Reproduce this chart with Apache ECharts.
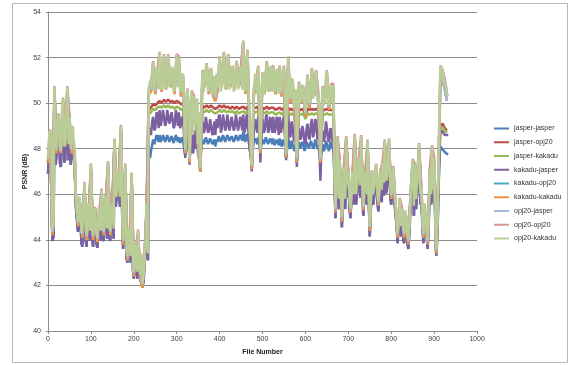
<!DOCTYPE html>
<html>
<head>
<meta charset="utf-8">
<script src="https://cdn.jsdelivr.net/npm/echarts@6/dist/echarts.min.js"></script>
<style>html,body{margin:0;padding:0;background:#fff;}#chart{width:577px;height:365px;}</style>
</head>
<body>
<div id="chart"></div>
<script>
const fileNumbers = [
0,5,10,15,20,25,30,35,40,45,
50,55,60,65,70,75,80,85,90,95,
100,105,110,115,120,125,130,135,140,145,
150,155,160,165,170,175,180,185,190,195,
200,205,210,215,220,225,230,235,240,245,
250,255,260,265,270,275,280,285,290,295,
300,305,310,315,320,325,330,335,340,345,
350,355,360,365,370,375,380,385,390,395,
400,405,410,415,420,425,430,435,440,445,
450,455,460,465,470,475,480,485,490,495,
500,505,510,515,520,525,530,535,540,545,
550,555,560,565,570,575,580,585,590,595,
600,605,610,615,620,625,630,635,640,645,
650,655,660,665,670,675,680,685,690,695,
700,705,710,715,720,725,730,735,740,745,
750,755,760,765,770,775,780,785,790,795,
800,805,810,815,820,825,830,835,840,845,
850,855,860,865,870,875,880,885,890,895,
900,905,910,915,920,925,930];

// in-between file numbers (frames between the main samples) for the dense, noisy series
const midFileNumbers = [
3,8,13,18,23,28,33,38,43,48,
53,58,63,68,73,78,83,88,93,98,
103,108,113,118,123,128,133,138,143,148,
153,158,163,168,173,178,183,188,193,198,
203,208,213,218,223,228,233,238,243,248,
253,258,263,268,273,278,283,288,293,298,
303,308,313,318,323,328,333,338,343,348,
353,358,363,368,373,378,383,388,393,398,
403,408,413,418,423,428,433,438,443,448,
453,458,463,468,473,478,483,488,493,498,
503,508,513,518,523,528,533,538,543,548,
553,558,563,568,573,578,583,588,593,598,
603,608,613,618,623,628,633,638,643,648,
653,658,663,668,673,678,683,688,693,698,
703,708,713,718,723,728,733,738,743,748,
753,758,763,768,773,778,783,788,793,798,
803,808,813,818,823,828,833,838,843,848,
853,858,863,868,873,878,883,888,893,898,
903,908,913,918,923,928,933];

const seriesNames = ['jasper-jasper','jasper-opj20','jasper-kakadu','kakadu-jasper','kakadu-opj20','kakadu-kakadu','opj20-jasper','opj20-opj20','opj20-kakadu'];
const seriesColors = ['#4A7EBB','#BE4B48','#98B954','#7D60A0','#46AAC5','#F69240','#A2BCDD','#DA9694','#B9CE97'];
const yTicks = {min:40, max:54, step:2};
const xTicks = {min:0, max:1000, step:100};

const jasperJasper = [
46.9,48.1,43.95,50.0,47.3,48.8,47.2,49.5,47.5,50.0,
48.7,47.3,47.6,45.45,44.35,45.15,43.7,45.95,43.7,44.75,
46.75,43.7,44.95,43.65,44.85,45.65,43.95,45.45,46.85,43.95,
45.15,47.7,45.5,46.25,48.3,43.6,46.75,43.0,43.5,46.35,
42.3,43.2,43.95,42.2,41.95,43.0,45.15,47.7,47.9,48.4,
48.2,48.5,48.6,48.3,48.6,48.3,48.6,48.3,48.55,48.25,
48.6,48.5,48.2,48.4,47.7,48.3,47.6,48.3,48.2,48.0,
47.8,47.5,48.4,48.2,48.5,48.2,48.45,48.2,48.1,48.3,
48.6,48.3,48.65,48.3,48.6,48.35,48.55,48.3,48.6,48.35,
48.55,48.75,48.3,48.6,48.0,47.6,48.3,48.35,48.5,47.9,
48.4,48.2,48.5,48.2,48.45,48.45,48.15,48.35,48.45,48.1,
48.4,47.6,48.5,48.0,48.3,47.9,47.5,48.3,48.0,48.2,
47.9,48.35,48.0,48.4,48.1,48.4,48.1,47.5,48.2,48.0,
48.4,47.9,48.2,48.2,44.95,47.8,46.95,44.55,46.65,47.8,
46.45,44.95,46.45,47.9,45.95,47.05,47.85,45.05,46.45,47.65,
44.15,46.45,45.85,46.75,45.25,46.45,46.85,47.65,46.25,47.7,
45.55,46.65,45.15,43.85,45.35,44.95,43.85,44.55,43.6,45.55,
46.95,46.75,45.95,47.5,45.85,43.85,44.75,43.6,46.55,47.4,
47.05,43.3,46.0,48.1,48.0,47.85,47.8];
const jasperJasperMid = [
48.0,47.8,44.15,47.3,48.5,47.35,49.1,47.4,48.9,47.5,
47.3,48.3,47.35,44.75,45.45,43.85,45.05,43.95,45.15,43.95,
44.15,44.95,43.85,44.95,43.95,44.05,45.35,44.05,44.15,44.95,
44.05,45.45,46.45,45.45,45.05,44.75,43.2,44.05,43.0,42.7,
43.5,42.3,42.7,43.1,42.2,43.55,43.1,47.6,48.2,48.2,
48.6,48.3,48.3,48.6,48.3,48.6,48.3,48.55,48.25,48.6,
48.3,48.25,48.5,47.9,48.3,48.0,48.3,47.8,48.0,48.3,
48.2,48.3,48.2,48.5,48.2,48.45,48.2,48.4,48.4,48.55,
48.3,48.6,48.3,48.6,48.35,48.55,48.3,48.6,48.35,48.6,
48.35,48.4,48.65,48.3,47.7,48.1,48.45,48.2,48.2,48.3,
48.2,48.5,48.2,48.45,48.2,48.15,48.4,48.15,48.2,48.4,
48.1,48.1,48.1,48.35,48.0,48.2,48.0,48.0,48.3,47.9,
48.3,48.0,48.35,48.0,48.4,48.0,47.8,48.0,47.9,48.35,
48.0,48.3,48.0,46.5,46.25,45.35,45.65,45.85,45.35,45.85,
45.35,46.05,45.55,45.55,46.85,45.85,46.05,46.25,45.55,45.55,
45.55,45.55,46.65,45.65,46.35,45.65,45.95,46.05,47.05,45.85,
46.35,45.55,44.55,44.85,44.15,44.05,44.85,43.85,44.55,46.25,
45.05,45.35,46.65,45.55,44.55,45.15,44.15,45.05,45.55,45.65,
44.55,44.35,47.8,48.0,47.9,47.8,47.75];

const jasperOpj20 = [
47.4,48.6,44.2,50.5,47.8,49.3,47.8,50.0,48.1,50.5,
49.2,47.8,48.1,45.8,44.6,45.4,44.1,46.3,44.0,45.0,
47.1,44.0,45.2,43.9,45.1,46.0,44.2,45.7,47.2,44.2,
45.4,48.2,45.9,46.6,48.8,43.8,47.1,43.1,43.6,46.7,
42.4,43.3,44.2,42.3,41.9,43.1,45.4,49.7,49.8,49.95,
49.9,50.0,50.1,50.0,50.15,50.05,50.15,50.05,50.1,50.0,
50.1,50.05,49.95,50.0,47.8,49.9,47.4,49.85,49.8,49.3,
48.0,47.0,49.9,49.8,49.9,49.8,49.9,49.8,49.75,49.8,
49.9,49.8,49.9,49.8,49.85,49.75,49.85,49.75,49.85,49.75,
49.8,49.85,49.75,49.85,48.8,47.1,49.8,49.8,49.85,47.8,
49.8,49.75,49.85,49.75,49.8,49.8,49.7,49.75,49.8,49.7,
49.8,47.6,49.8,49.7,49.75,49.6,47.4,49.75,49.7,49.75,
49.4,49.75,49.7,49.75,49.7,49.75,49.7,47.4,49.7,49.7,
49.75,49.7,49.7,49.7,45.2,48.3,47.3,44.8,47.0,48.3,
46.8,45.2,46.8,48.4,46.3,47.4,48.35,45.3,46.8,48.15,
44.4,46.8,46.2,47.1,45.5,46.8,47.2,48.15,46.6,48.2,
45.8,47.0,45.4,44.1,45.6,45.2,44.1,44.8,43.8,45.8,
47.3,47.1,46.3,48.0,46.2,44.1,45.0,43.8,46.9,47.9,
47.4,43.4,46.8,49.0,49.1,48.9,48.8];

const jasperKakadu = [
47.4,48.6,44.2,50.5,47.8,49.3,47.8,50.0,48.1,50.5,
49.2,47.8,48.1,45.8,44.6,45.4,44.1,46.3,44.0,45.0,
47.1,44.0,45.2,43.9,45.1,46.0,44.2,45.7,47.2,44.2,
45.4,48.2,45.9,46.6,48.8,43.8,47.1,43.1,43.6,46.7,
42.4,43.3,44.2,42.3,41.9,43.1,45.4,49.5,49.6,49.75,
49.7,49.8,49.85,49.8,49.9,49.8,49.9,49.8,49.85,49.75,
49.85,49.8,49.7,49.75,47.8,49.65,47.4,49.6,49.55,49.2,
48.0,47.0,49.7,49.6,49.7,49.6,49.7,49.6,49.55,49.6,
49.7,49.6,49.7,49.6,49.65,49.6,49.65,49.55,49.65,49.55,
49.6,49.65,49.55,49.65,48.8,47.1,49.6,49.6,49.65,47.8,
49.6,49.55,49.65,49.55,49.6,49.6,49.5,49.55,49.6,49.5,
49.6,47.6,49.6,49.5,49.55,49.4,47.4,49.55,49.5,49.55,
49.3,49.55,49.5,49.55,49.5,49.55,49.5,47.4,49.5,49.5,
49.55,49.5,49.5,49.5,45.2,48.3,47.3,44.8,47.0,48.3,
46.8,45.2,46.8,48.4,46.3,47.4,48.35,45.3,46.8,48.15,
44.4,46.8,46.2,47.1,45.5,46.8,47.2,48.15,46.6,48.2,
45.8,47.0,45.4,44.1,45.6,45.2,44.1,44.8,43.8,45.8,
47.3,47.1,46.3,48.0,46.2,44.1,45.0,43.8,46.9,47.9,
47.4,43.4,46.8,48.9,48.95,48.8,48.7];

const kakaduJasper = [
46.9,48.1,43.95,50.0,47.3,48.8,47.2,49.5,47.5,50.0,
48.7,47.3,47.6,45.45,44.35,45.15,43.7,45.95,43.7,44.75,
46.75,43.7,44.95,43.65,44.85,45.65,43.95,45.45,46.85,43.95,
45.15,47.7,45.5,46.25,48.3,43.6,46.75,43.0,43.5,46.35,
42.3,43.2,43.95,42.2,41.95,43.0,45.15,48.7,48.6,49.4,
48.9,49.5,49.7,49.0,49.7,49.1,49.7,49.1,49.6,49.0,
49.7,49.6,48.9,49.3,47.6,49.0,47.3,48.9,48.8,48.4,
47.7,47.1,49.2,48.8,49.4,48.8,49.3,48.7,48.6,48.9,
49.5,48.9,49.5,48.9,49.5,49.0,49.4,48.9,49.5,49.0,
49.4,49.5,48.9,49.5,48.0,47.0,48.8,49.0,49.4,47.4,
49.3,48.8,49.5,48.8,49.4,49.4,48.8,49.2,49.4,48.7,
49.4,47.5,49.5,48.5,49.0,48.3,47.2,48.9,48.5,48.8,
48.2,49.1,48.4,49.3,48.7,49.2,48.6,46.6,48.8,48.5,
49.2,48.3,48.8,48.9,44.95,47.8,46.95,44.55,46.65,47.8,
46.45,44.95,46.45,47.9,45.95,47.05,47.85,45.05,46.45,47.65,
44.15,46.45,45.85,46.75,45.25,46.45,46.85,47.65,46.25,47.7,
45.55,46.65,45.15,43.85,45.35,44.95,43.85,44.55,43.6,45.55,
46.95,46.75,45.95,47.5,45.85,43.85,44.75,43.6,46.55,47.4,
47.05,43.3,46.0,48.8,48.75,48.6,48.6];
const kakaduJasperMid = [
48.0,47.8,44.15,47.3,48.5,47.35,49.1,47.4,48.9,47.5,
47.3,48.3,47.35,44.75,45.45,43.85,45.05,43.95,45.15,43.95,
44.15,44.95,43.85,44.95,43.95,44.05,45.35,44.05,44.15,44.95,
44.05,45.45,46.45,45.45,45.05,44.75,43.2,44.05,43.0,42.7,
43.5,42.3,42.7,43.1,42.2,43.55,43.1,48.9,49.2,48.8,
49.6,48.9,49.0,49.7,49.0,49.7,49.1,49.6,48.9,49.7,
49.0,48.9,49.4,48.3,49.0,48.6,48.9,47.8,48.0,49.0,
48.7,48.9,48.7,49.4,48.7,49.3,48.6,49.2,49.3,49.4,
48.7,49.5,48.8,49.5,48.8,49.4,48.8,49.5,48.8,49.4,
48.8,48.7,49.5,48.6,47.6,48.3,49.3,48.7,48.6,48.8,
48.7,49.4,48.7,49.4,48.7,48.7,49.4,48.6,48.7,49.3,
48.5,48.6,48.6,49.2,48.4,48.9,48.5,48.4,49.0,48.3,
48.9,48.5,49.1,48.5,49.3,48.4,47.9,48.4,48.3,49.2,
48.4,48.9,48.3,46.5,46.25,45.35,45.65,45.85,45.35,45.85,
45.35,46.05,45.55,45.55,46.85,45.85,46.05,46.25,45.55,45.55,
45.55,45.55,46.65,45.65,46.35,45.65,45.95,46.05,47.05,45.85,
46.35,45.55,44.55,44.85,44.15,44.05,44.85,43.85,44.55,46.25,
45.05,45.35,46.65,45.55,44.55,45.15,44.15,45.05,45.55,45.65,
44.55,44.35,48.5,48.8,48.7,48.6,48.6];

const kakaduOpj20 = [
47.4,48.6,44.2,50.5,47.8,49.3,47.8,50.0,48.1,50.5,
49.2,47.8,48.1,45.8,44.6,45.4,44.1,46.3,44.0,45.0,
47.1,44.0,45.2,43.9,45.1,46.0,44.2,45.7,47.2,44.2,
45.4,48.2,45.9,46.6,48.8,43.8,47.1,43.1,43.6,46.7,
42.4,43.3,44.2,42.3,41.9,43.1,45.4,50.4,50.5,51.6,
50.4,51.2,52.0,50.5,51.9,50.6,51.9,50.7,51.3,50.4,
51.9,51.8,50.3,51.0,47.8,50.4,47.4,50.3,50.1,49.3,
48.0,47.0,51.2,50.7,51.5,50.4,51.3,50.3,50.1,50.5,
51.8,50.7,52.0,50.6,51.9,50.7,51.4,50.6,51.6,50.7,
51.4,52.5,50.4,52.1,48.8,47.1,50.4,50.7,51.4,47.8,
51.1,50.4,51.6,50.5,51.3,51.4,50.4,51.0,51.4,50.3,
51.4,47.6,51.8,50.0,50.8,49.6,47.4,50.7,50.0,50.5,
49.4,51.0,49.8,51.3,50.3,51.2,50.2,47.4,50.5,50.0,
51.2,49.7,50.6,50.6,45.2,48.3,47.3,44.8,47.0,48.3,
46.8,45.2,46.8,48.4,46.3,47.4,48.35,45.3,46.8,48.15,
44.4,46.8,46.2,47.1,45.5,46.8,47.2,48.15,46.6,48.2,
45.8,47.0,45.4,44.1,45.6,45.2,44.1,44.8,43.8,45.8,
47.3,47.1,46.3,48.0,46.2,44.1,45.0,43.8,46.9,47.9,
47.4,43.4,46.8,51.3,51.0,50.6,50.1];

const kakaduKakadu = [
47.4,48.6,44.2,50.5,47.8,49.3,47.8,50.0,48.1,50.5,
49.2,47.8,48.1,45.8,44.6,45.4,44.1,46.3,44.0,45.0,
47.1,44.0,45.2,43.9,45.1,46.0,44.2,45.7,47.2,44.2,
45.4,48.2,45.9,46.6,48.8,43.8,47.1,43.1,43.6,46.7,
42.4,43.3,44.2,42.3,41.9,43.1,45.4,50.4,50.5,51.6,
50.4,51.2,52.0,50.5,51.9,50.6,51.9,50.7,51.3,50.4,
51.9,51.8,50.3,51.0,47.8,50.4,47.4,50.3,50.1,49.3,
48.0,47.0,51.2,50.7,51.5,50.4,51.3,50.3,50.1,50.5,
51.8,50.7,52.0,50.6,51.9,50.7,51.4,50.6,51.6,50.7,
51.4,52.5,50.4,52.1,48.8,47.1,50.4,50.7,51.4,47.8,
51.1,50.4,51.6,50.5,51.3,51.4,50.4,51.0,51.4,50.3,
51.4,47.6,51.8,50.0,50.8,49.6,47.4,50.7,50.0,50.5,
49.4,51.0,49.8,51.3,50.3,51.2,50.2,47.4,50.5,50.0,
51.2,49.7,50.6,50.6,45.2,48.3,47.3,44.8,47.0,48.3,
46.8,45.2,46.8,48.4,46.3,47.4,48.35,45.3,46.8,48.15,
44.4,46.8,46.2,47.1,45.5,46.8,47.2,48.15,46.6,48.2,
45.8,47.0,45.4,44.1,45.6,45.2,44.1,44.8,43.8,45.8,
47.3,47.1,46.3,48.0,46.2,44.1,45.0,43.8,46.9,47.9,
47.4,43.4,46.8,51.3,51.0,50.6,50.1];

const opj20Jasper = [
47.55,48.75,44.35,50.65,47.95,49.45,47.95,50.15,48.25,50.65,
49.35,47.95,48.25,45.95,44.75,45.55,44.25,46.45,44.15,45.15,
47.25,44.15,45.35,44.05,45.25,46.15,44.35,45.85,47.35,44.35,
45.55,48.35,46.05,46.75,48.95,43.95,47.25,43.25,43.75,46.85,
42.55,43.45,44.35,42.45,42.05,43.25,45.55,50.55,50.65,51.75,
50.55,51.35,52.15,50.65,52.05,50.75,52.05,50.85,51.45,50.55,
52.05,51.95,50.45,51.15,47.95,50.55,47.55,50.45,50.25,49.45,
48.15,47.15,51.35,50.85,51.65,50.55,51.45,50.45,50.25,50.65,
51.95,50.85,52.15,50.75,52.05,50.85,51.55,50.75,51.75,50.85,
51.55,52.65,50.55,52.25,48.95,47.25,50.55,50.85,51.55,47.95,
51.25,50.55,51.75,50.65,51.45,51.55,50.55,51.15,51.55,50.45,
51.55,47.75,51.95,50.15,50.95,49.75,47.55,50.85,50.15,50.65,
49.55,51.15,49.95,51.45,50.45,51.35,50.35,47.55,50.65,50.15,
51.35,49.85,50.75,50.75,45.35,48.45,47.45,44.95,47.15,48.45,
46.95,45.35,46.95,48.55,46.45,47.55,48.5,45.45,46.95,48.3,
44.55,46.95,46.35,47.25,45.65,46.95,47.35,48.3,46.75,48.35,
45.95,47.15,45.55,44.25,45.75,45.35,44.25,44.95,43.95,45.95,
47.45,47.25,46.45,48.15,46.35,44.25,45.15,43.95,47.05,48.05,
47.55,43.55,46.9,51.3,51.0,50.6,50.1];

const opj20Opj20 = [
47.65,48.85,44.45,50.75,48.05,49.55,48.05,50.25,48.35,50.75,
49.45,48.05,48.35,46.05,44.85,45.65,44.35,46.55,44.25,45.25,
47.35,44.25,45.45,44.15,45.35,46.25,44.45,45.95,47.45,44.45,
45.65,48.45,46.15,46.85,49.05,44.05,47.35,43.35,43.85,46.95,
42.65,43.55,44.45,42.55,42.15,43.35,45.65,50.65,50.75,51.85,
50.65,51.45,52.25,50.75,52.15,50.85,52.15,50.95,51.55,50.65,
52.15,52.05,50.55,51.25,48.05,50.65,47.65,50.55,50.35,49.55,
48.25,47.25,51.45,50.95,51.75,50.65,51.55,50.55,50.35,50.75,
52.05,50.95,52.25,50.85,52.15,50.95,51.65,50.85,51.85,50.95,
51.65,52.75,50.65,52.35,49.05,47.35,50.65,50.95,51.65,48.05,
51.35,50.65,51.85,50.75,51.55,51.65,50.65,51.25,51.65,50.55,
51.65,47.85,52.05,50.25,51.05,49.85,47.65,50.95,50.25,50.75,
49.65,51.25,50.05,51.55,50.55,51.45,50.45,47.65,50.75,50.25,
51.45,49.95,50.85,50.85,45.45,48.55,47.55,45.05,47.25,48.55,
47.05,45.45,47.05,48.65,46.55,47.65,48.6,45.55,47.05,48.4,
44.65,47.05,46.45,47.35,45.75,47.05,47.45,48.4,46.85,48.45,
46.05,47.25,45.65,44.35,45.85,45.45,44.35,45.05,44.05,46.05,
47.55,47.35,46.55,48.25,46.45,44.35,45.25,44.05,47.15,48.15,
47.65,43.65,47.05,51.65,51.45,51.05,50.45];

const opj20Kakadu = [
47.6,48.8,44.4,50.7,48.0,49.5,48.0,50.2,48.3,50.7,
49.4,48.0,48.3,46.0,44.8,45.6,44.3,46.5,44.2,45.2,
47.3,44.2,45.4,44.1,45.3,46.2,44.4,45.9,47.4,44.4,
45.6,48.4,46.1,46.8,49.0,44.0,47.3,43.3,43.8,46.9,
42.6,43.5,44.4,42.5,42.1,43.3,45.6,50.6,50.7,51.8,
50.6,51.4,52.2,50.7,52.1,50.8,52.1,50.9,51.5,50.6,
52.1,52.0,50.5,51.2,48.0,50.6,47.6,50.5,50.3,49.5,
48.2,47.2,51.4,50.9,51.7,50.6,51.5,50.5,50.3,50.7,
52.0,50.9,52.2,50.8,52.1,50.9,51.6,50.8,51.8,50.9,
51.6,52.7,50.6,52.3,49.0,47.3,50.6,50.9,51.6,48.0,
51.3,50.6,51.8,50.7,51.5,51.6,50.6,51.2,51.6,50.5,
51.6,47.8,52.0,50.2,51.0,49.8,47.6,50.9,50.2,50.7,
49.6,51.2,50.0,51.5,50.5,51.4,50.4,47.6,50.7,50.2,
51.4,49.9,50.8,50.8,45.4,48.5,47.5,45.0,47.2,48.5,
47.0,45.4,47.0,48.6,46.5,47.6,48.55,45.5,47.0,48.35,
44.6,47.0,46.4,47.3,45.7,47.0,47.4,48.35,46.8,48.4,
46.0,47.2,45.6,44.3,45.8,45.4,44.3,45.0,44.0,46.0,
47.5,47.3,46.5,48.2,46.4,44.3,45.2,44.0,47.1,48.1,
47.6,43.6,47.0,51.6,51.4,51.0,50.4];
const opj20KakaduMid = [
48.7,48.5,44.6,48.0,49.2,47.9,49.8,48.1,49.6,48.2,
48.0,49.0,47.9,45.2,45.9,44.3,45.5,44.4,45.6,44.4,
44.6,45.4,44.3,45.4,44.4,44.5,45.8,44.5,44.6,45.4,
44.5,45.9,47.0,45.9,45.5,45.2,43.5,44.5,43.3,43.0,
43.8,42.6,43.0,43.4,42.5,44.0,43.4,51.0,51.2,50.6,
51.6,50.6,50.6,51.9,50.6,51.8,50.7,51.6,50.5,51.7,
50.7,50.6,51.3,49.5,50.4,49.8,50.2,48.6,49.0,50.2,
49.6,50.0,50.5,51.6,50.5,51.4,50.4,51.2,51.3,51.6,
50.5,51.7,50.6,51.8,50.6,51.5,50.5,51.7,50.6,51.4,
50.6,50.5,51.9,50.2,48.5,49.5,51.3,50.4,50.3,50.5,
50.4,51.5,50.5,51.6,50.5,50.5,51.5,50.4,50.5,51.4,
50.3,50.3,50.4,51.1,50.0,50.6,50.0,50.0,50.8,49.9,
50.6,50.1,51.0,50.2,51.3,50.1,49.5,49.8,49.9,51.2,
50.0,50.7,50.0,47.0,46.8,45.8,46.2,46.4,45.8,46.4,
45.8,46.6,46.0,46.0,47.4,46.4,46.6,46.8,46.0,46.0,
46.0,46.0,47.2,46.2,46.9,46.2,46.5,46.6,47.6,46.4,
46.9,46.0,45.0,45.3,44.6,44.5,45.3,44.3,45.0,46.8,
45.5,45.8,47.2,46.0,45.0,45.6,44.6,45.5,46.0,46.2,
45.0,44.8,50.5,51.5,51.0,50.7,50.3];

const seriesValues = [jasperJasper, jasperOpj20, jasperKakadu, kakaduJasper, kakaduOpj20, kakaduKakadu, opj20Jasper, opj20Opj20, opj20Kakadu];
const seriesMidValues = [jasperJasperMid, null, null, kakaduJasperMid, null, null, null, null, opj20KakaduMid];

function buildData(vals, mids) {
  const out = [];
  for (let i = 0; i < fileNumbers.length; i++) {
    out.push([fileNumbers[i], vals[i]]);
    if (mids && i < midFileNumbers.length) out.push([midFileNumbers[i], mids[i]]);
  }
  return out;
}

const FONT = 'Liberation Sans';
const chart = echarts.init(document.getElementById('chart'), null, {renderer: 'canvas'});
chart.setOption({
  animation: false,
  backgroundColor: '#ffffff',
  graphic: [{
    type: 'rect', silent: true, z: -10,
    shape: {x: 12.5, y: 3.5, width: 555, height: 359},
    style: {fill: 'none', stroke: '#b8b8b8', lineWidth: 1}
  }],
  grid: {left: 48, right: 100, top: 12, bottom: 34, containLabel: false},
  legend: {
    orient: 'vertical', left: 494, top: 124, padding: 0,
    icon: 'rect', itemWidth: 15, itemHeight: 2, itemGap: 4.75,
    textStyle: {fontFamily: FONT, fontSize: 7, color: '#333333', lineHeight: 9},
    data: seriesNames
  },
  xAxis: {
    type: 'value', min: xTicks.min, max: xTicks.max, interval: xTicks.step,
    name: 'File Number', nameLocation: 'middle', nameGap: 18, nameMoveOverlap: false,
    nameTextStyle: {fontFamily: FONT, fontSize: 7, fontWeight: 'bold', color: '#222'},
    axisLine: {show: true, lineStyle: {color: '#8c8c8c', width: 1}},
    axisTick: {show: true, length: 3, lineStyle: {color: '#8c8c8c'}},
    axisLabel: {fontFamily: FONT, fontSize: 7, color: '#404040', margin: 5, formatter: v => String(v)},
    splitLine: {show: false}
  },
  yAxis: {
    type: 'value', min: yTicks.min, max: yTicks.max, interval: yTicks.step,
    name: 'PSNR (dB)', nameLocation: 'middle', nameGap: 19, nameMoveOverlap: false,
    nameTextStyle: {fontFamily: FONT, fontSize: 7, fontWeight: 'bold', color: '#222'},
    axisLine: {show: true, lineStyle: {color: '#8c8c8c', width: 1}},
    axisTick: {show: true, length: 2, lineStyle: {color: '#8c8c8c'}},
    axisLabel: {fontFamily: FONT, fontSize: 7, color: '#404040', margin: 7},
    splitLine: {show: true, lineStyle: {color: '#8c8c8c', width: 1}}
  },
  series: seriesNames.map((name, k) => ({
    name: name,
    type: 'line',
    showSymbol: false,
    symbol: 'none',
    color: seriesColors[k],
    lineStyle: {width: 2.5, color: seriesColors[k]},
    emphasis: {disabled: true},
    data: buildData(seriesValues[k], seriesMidValues[k])
  }))
});
</script>
</body>
</html>
